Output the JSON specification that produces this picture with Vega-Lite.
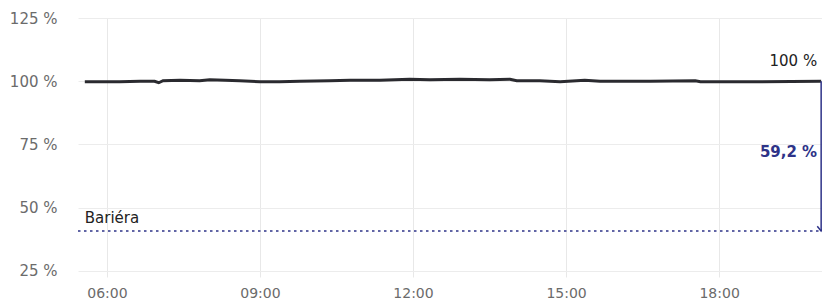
{
  "$schema": "https://vega.github.io/schema/vega-lite/v6.json",
  "autosize": {"type": "none"},
  "padding": {"left": 78, "top": 18, "right": 0, "bottom": 22},
  "width": 744,
  "height": 259,
  "background": "white",
  "config": {
    "view": {"stroke": null},
    "font": "DejaVu Sans"
  },
  "datasets": {
    "series": [
      {"t": "2024-01-01T05:34:00", "v": 99.8},
      {"t": "2024-01-01T05:52:00", "v": 99.8},
      {"t": "2024-01-01T06:15:00", "v": 99.8},
      {"t": "2024-01-01T06:39:00", "v": 100.0},
      {"t": "2024-01-01T06:56:00", "v": 100.0},
      {"t": "2024-01-01T07:01:00", "v": 99.4},
      {"t": "2024-01-01T07:06:00", "v": 100.2},
      {"t": "2024-01-01T07:26:00", "v": 100.4},
      {"t": "2024-01-01T07:49:00", "v": 100.2},
      {"t": "2024-01-01T08:01:00", "v": 100.6},
      {"t": "2024-01-01T08:19:00", "v": 100.4},
      {"t": "2024-01-01T08:36:00", "v": 100.2},
      {"t": "2024-01-01T09:00:00", "v": 99.8},
      {"t": "2024-01-01T09:23:00", "v": 99.8},
      {"t": "2024-01-01T09:47:00", "v": 100.0},
      {"t": "2024-01-01T10:22:00", "v": 100.2},
      {"t": "2024-01-01T10:46:00", "v": 100.4},
      {"t": "2024-01-01T11:21:00", "v": 100.4},
      {"t": "2024-01-01T11:56:00", "v": 100.8},
      {"t": "2024-01-01T12:20:00", "v": 100.6},
      {"t": "2024-01-01T12:55:00", "v": 100.8},
      {"t": "2024-01-01T13:30:00", "v": 100.6},
      {"t": "2024-01-01T13:54:00", "v": 100.8},
      {"t": "2024-01-01T14:02:00", "v": 100.2},
      {"t": "2024-01-01T14:29:00", "v": 100.2},
      {"t": "2024-01-01T14:53:00", "v": 99.8},
      {"t": "2024-01-01T15:22:00", "v": 100.4},
      {"t": "2024-01-01T15:40:00", "v": 100.0},
      {"t": "2024-01-01T16:39:00", "v": 100.0},
      {"t": "2024-01-01T17:32:00", "v": 100.2},
      {"t": "2024-01-01T17:38:00", "v": 99.8},
      {"t": "2024-01-01T18:48:00", "v": 99.8},
      {"t": "2024-01-01T20:00:00", "v": 100.0}
    ],
    "barrier": [
      {"t0": "2024-01-01T05:26:00", "t1": "2024-01-01T20:01:00", "v": 40.8, "label": "Bariéra", "tl": "2024-01-01T05:34:00"}
    ],
    "gap": [
      {"t": "2024-01-01T20:00:00", "top": 100, "bottom": 40.8, "mid": 70.4, "gapLabel": "59,2 %", "topLabel": "100 %"}
    ]
  },
  "layer": [
    {
      "data": {"name": "series"},
      "mark": {"type": "line", "color": "#2a2a2f", "strokeWidth": 3},
      "encoding": {
        "x": {
          "field": "t", "type": "temporal",
          "scale": {"domain": [{"year": 2024, "month": 1, "date": 1, "hours": 5, "minutes": 26}, {"year": 2024, "month": 1, "date": 1, "hours": 20, "minutes": 1}], "nice": false},
          "axis": {
            "title": null, "format": "%H:%M",
            "values": [
              {"year": 2024, "month": 1, "date": 1, "hours": 6},
              {"year": 2024, "month": 1, "date": 1, "hours": 9},
              {"year": 2024, "month": 1, "date": 1, "hours": 12},
              {"year": 2024, "month": 1, "date": 1, "hours": 15},
              {"year": 2024, "month": 1, "date": 1, "hours": 18}
            ],
            "domain": false, "ticks": false,
            "grid": true, "gridColor": "#e8e8e8", "gridWidth": 1,
            "labelFontSize": 14, "labelColor": "#6b6b6b",
            "labelPadding": 9
          }
        },
        "y": {
          "field": "v", "type": "quantitative",
          "scale": {"domain": [22.6, 125], "nice": false, "zero": false},
          "axis": {
            "title": null, "values": [25, 50, 75, 100, 125],
            "labelExpr": "datum.value + ' %'",
            "domain": false, "ticks": false,
            "grid": true, "gridColor": "#ececec", "gridWidth": 1,
            "labelFontSize": 15, "labelColor": "#6b6b6b",
            "labelPadding": 21
          }
        }
      }
    },
    {
      "data": {"name": "barrier"},
      "mark": {"type": "rule", "color": "#2e3388", "strokeWidth": 1.5, "strokeDash": [2.5, 3.5]},
      "encoding": {
        "x": {"field": "t0", "type": "temporal"},
        "x2": {"field": "t1"},
        "y": {"field": "v", "type": "quantitative"}
      }
    },
    {
      "data": {"name": "gap"},
      "mark": {"type": "rule", "color": "#2e3388", "strokeWidth": 1.5},
      "encoding": {
        "x": {"field": "t", "type": "temporal"},
        "y": {"field": "top", "type": "quantitative"},
        "y2": {"field": "bottom"}
      }
    },
    {
      "data": {"name": "gap"},
      "mark": {"type": "point", "shape": "M-1,-1.2L0,0L1,-1.2", "filled": false, "size": 60, "color": "#2e3388", "strokeWidth": 1.5, "opacity": 1},
      "encoding": {
        "x": {"field": "t", "type": "temporal"},
        "y": {"field": "bottom", "type": "quantitative"}
      }
    },
    {
      "data": {"name": "gap"},
      "mark": {"type": "text", "align": "right", "baseline": "middle", "dx": -4, "dy": -4, "fontSize": 15, "fontWeight": "bold", "color": "#2e3388"},
      "encoding": {
        "x": {"field": "t", "type": "temporal"},
        "y": {"field": "mid", "type": "quantitative"},
        "text": {"field": "gapLabel"}
      }
    },
    {
      "data": {"name": "gap"},
      "mark": {"type": "text", "align": "right", "baseline": "middle", "dx": -4, "dy": -20, "fontSize": 15, "color": "#222222"},
      "encoding": {
        "x": {"field": "t", "type": "temporal"},
        "y": {"field": "top", "type": "quantitative"},
        "text": {"field": "topLabel"}
      }
    },
    {
      "data": {"name": "barrier"},
      "mark": {"type": "text", "align": "left", "baseline": "middle", "dy": -13, "fontSize": 15, "color": "#222222"},
      "encoding": {
        "x": {"field": "tl", "type": "temporal"},
        "y": {"field": "v", "type": "quantitative"},
        "text": {"field": "label"}
      }
    }
  ]
}
